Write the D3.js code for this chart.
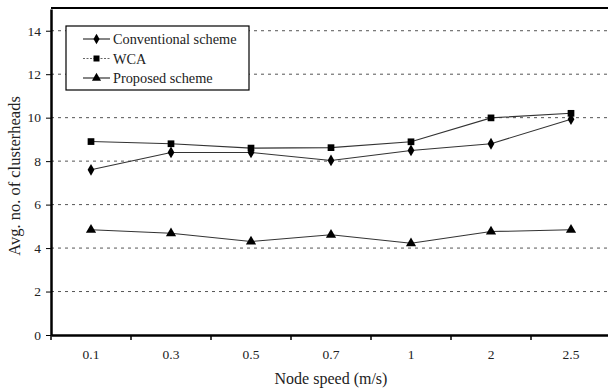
<!DOCTYPE html>
<html>
<head>
<meta charset="utf-8">
<script src="https://cdn.jsdelivr.net/npm/d3@7"></script>
<style>
  body { margin: 0; background: #fff; }
  svg { display: block; }
  svg text { font-family: "Liberation Serif", "Times New Roman", "DejaVu Serif", serif; }
</style>
</head>
<body>
<svg id="chart" width="608" height="392"></svg>
<script>
// data
var speeds = ["0.1", "0.3", "0.5", "0.7", "1", "2", "2.5"];
var conventional = [7.6, 8.4, 8.4, 8.03, 8.49, 8.8, 9.93];
var wca = [8.9, 8.8, 8.6, 8.62, 8.89, 9.99, 10.2];
var proposed = [4.84, 4.68, 4.3, 4.61, 4.22, 4.76, 4.84];
var yTicks = [0, 2, 4, 6, 8, 10, 12, 14];
var seriesNames = ["Conventional scheme", "WCA", "Proposed scheme"];

var svg = d3.select("#chart");

//plot box (window.top is reserved, so plotTop)
var plotLeft = 51, plotRight = 611, plotBottom = 335, plotTop = 9;

var x = d3.scaleBand().domain(speeds).range([plotLeft, plotRight]).padding(0);
var y = d3.scaleLinear().domain([0, 15]).range([plotBottom, plotTop]);

//dashed gridlines
svg.append("g")
    .selectAll("line")
    .data(yTicks.slice(1))
    .enter()
    .append("line")
    .attr("x1", plotLeft)
    .attr("x2", 608)
    .attr("y1", function (d) { return y(d); })
    .attr("y2", function (d) { return y(d); })
    .attr("stroke", "#555")
    .attr("stroke-width", 1)
    .attr("stroke-dasharray", "3,4");

//top frame line
svg.append("line")
    .attr("x1", plotLeft).attr("x2", 608)
    .attr("y1", plotTop - 1).attr("y2", plotTop - 1)
    .attr("stroke", "#000").attr("stroke-width", 2);

//y axis
var yAxis = d3.axisLeft(y).tickValues(yTicks).tickSize(5).tickSizeOuter(0);
var gy = svg.append("g")
    .attr("transform", "translate(" + plotLeft + ",0)")
    .call(yAxis)
    .attr("font-family", null);
gy.select(".domain").attr("stroke-width", 2.5);
gy.selectAll("text").attr("font-size", 13.5).attr("fill", "#222").attr("dx", -2);

//x axis, ticks between categories
var xAxis = d3.axisBottom(x).tickSize(0).tickSizeOuter(0);
var gx = svg.append("g")
    .attr("transform", "translate(0," + plotBottom + ")")
    .call(xAxis)
    .attr("font-family", null);
gx.select(".domain").attr("stroke-width", 2.5);
gx.selectAll("text").attr("font-size", 13.5).attr("fill", "#222").attr("dy", "1.55em");
gx.selectAll(".sep")
    .data(speeds)
    .enter()
    .append("line")
    .attr("class", "sep")
    .attr("x1", function (d) { return x(d); })
    .attr("x2", function (d) { return x(d); })
    .attr("y1", 0).attr("y2", 5)
    .attr("stroke", "#000").attr("stroke-width", 1.5);

//axis titles
svg.append("text")
    .attr("x", 331).attr("y", 384)
    .attr("text-anchor", "middle")
    .attr("font-size", 16)
    .attr("fill", "#222")
    .text("Node speed (m/s)");

svg.append("text")
    .attr("transform", "translate(20,176) rotate(-90)")
    .attr("text-anchor", "middle")
    .attr("font-size", 16.5)
    .attr("fill", "#222")
    .text("Avg. no. of clusterheads");

//series lines and markers
var line = d3.line()
    .x(function (d, i) { return x(speeds[i]) + x.bandwidth() / 2; })
    .y(function (d) { return y(d); });

var series = [
    { name: seriesNames[0], values: conventional, symbol: d3.symbolDiamond, size: 40 },
    { name: seriesNames[1], values: wca, symbol: d3.symbolSquare, size: 45 },
    { name: seriesNames[2], values: proposed, symbol: d3.symbolTriangle, size: 45 }
];

series.forEach(function (s) {
    svg.append("path")
        .datum(s.values)
        .attr("d", line)
        .attr("fill", "none")
        .attr("stroke", "#333")
        .attr("stroke-width", 1.1);

    svg.append("g")
        .selectAll("path")
        .data(s.values)
        .enter()
        .append("path")
        .attr("d", d3.symbol().type(s.symbol).size(s.size))
        .attr("transform", function (d, i) {
            return "translate(" + (x(speeds[i]) + x.bandwidth() / 2) + "," + y(d) + ")";
        })
        .attr("fill", "#000");
});

//legend
var legend = svg.append("g");
legend.append("rect")
    .attr("x", 66).attr("y", 26)
    .attr("width", 183).attr("height", 64)
    .attr("fill", "#fff")
    .attr("stroke", "#000")
    .attr("stroke-width", 1.2);

var rowY = [39, 58.5, 78];
series.forEach(function (s, i) {
    legend.append("line")
        .attr("x1", 83).attr("x2", 110)
        .attr("y1", rowY[i]).attr("y2", rowY[i])
        .attr("stroke", i == 1 ? "#666" : "#222")
        .attr("stroke-width", 1.1)
        .attr("stroke-dasharray", i == 1 ? "2,1.5" : null);
    legend.append("path")
        .attr("d", d3.symbol().type(s.symbol).size(s.size * 0.8))
        .attr("transform", "translate(96.5," + rowY[i] + ")")
        .attr("fill", "#000");
    legend.append("text")
        .attr("x", 113).attr("y", rowY[i] + 5)
        .attr("font-size", 14.3)
        .attr("fill", "#222")
        .text(s.name);
});
</script>
</body>
</html>
